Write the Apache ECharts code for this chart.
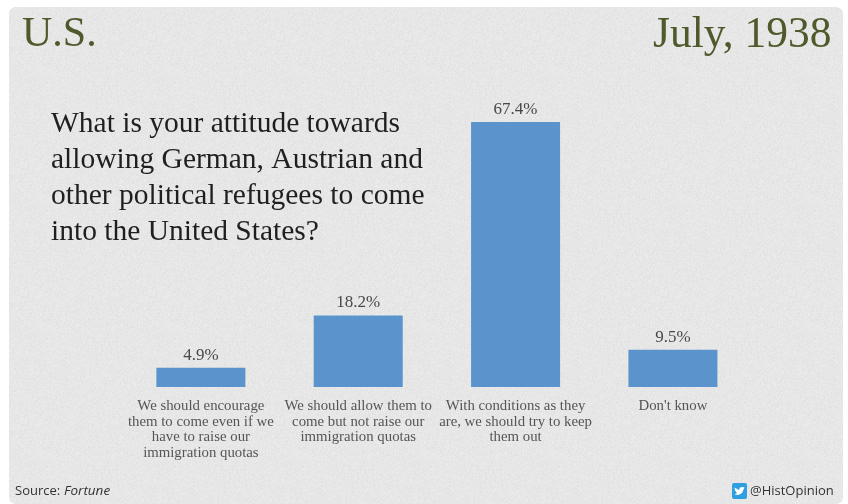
<!DOCTYPE html>
<html>
<head>
<meta charset="utf-8">
<style>html,body{margin:0;padding:0;background:#fff}#chart{width:848px;height:504px}</style>
<script src="https://cdn.jsdelivr.net/npm/echarts@6/dist/echarts.min.js"></script>
</head>
<body>
<div id="chart"></div>
<script>
// Survey answers and their shares in percent
const categories = [
  "We should encourage\nthem to come even if we\nhave to raise our\nimmigration quotas",
  "We should allow them to\ncome but not raise our\nimmigration quotas",
  "With conditions as they\nare, we should try to keep\nthem out",
  "Don't know"
];
const shares = [4.9, 18.2, 67.4, 9.5];
const question = "What is your attitude towards\nallowing German, Austrian and\nother political refugees to come\ninto the United States?";
const SERIF = '"Liberation Serif", serif';
const SANS = '"Open Sans", "Noto Sans", sans-serif';

// Fine paper grain for the slide panel, from a small fixed-seed generator
function paperTexture() {
  const c = document.createElement('canvas');
  c.width = c.height = 128;
  const g = c.getContext('2d');
  const img = g.createImageData(128, 128);
  let s = 12345;
  for (let i = 0; i < img.data.length; i += 4) {
    s = (s * 1103515245 + 12345) & 0x7fffffff;
    const v = 226 + (s >> 16) % 10;
    img.data[i] = img.data[i + 1] = img.data[i + 2] = v;
    img.data[i + 3] = 255;
  }
  g.putImageData(img, 0, 0);
  return c;
}

const chart = echarts.init(document.getElementById('chart'), null, { renderer: 'canvas' });
chart.setOption({
  backgroundColor: '#ffffff',
  animation: false,
  grid: { left: 122.2, right: 96.4, top: 72.4, bottom: 117, containLabel: false },
  xAxis: {
    type: 'category',
    data: categories,
    axisLine: { show: false },
    axisTick: { show: false },
    axisLabel: {
      interval: 0, margin: 11, color: '#555555',
      fontFamily: SERIF, fontSize: 14.8, lineHeight: 15.8, align: 'center'
    }
  },
  yAxis: { type: 'value', min: 0, max: 80, show: false },
  series: [{
    type: 'bar',
    data: shares,
    barWidth: 89,
    itemStyle: { color: '#5b93cc' },
    label: {
      show: true, position: 'top', distance: 4,
      formatter: p => p.value.toFixed(1) + '%',
      color: '#484848', fontFamily: SERIF, fontSize: 17
    },
    z: 5
  }],
  graphic: [
    { type: 'rect', z: -10, shape: { x: 9, y: 7, width: 834, height: 497, r: 7 },
      style: { fill: { image: paperTexture(), repeat: 'repeat' } } },
    { type: 'text', z: 10, x: 22, y: 14, style: { text: 'U.S.', font: '42px ' + SERIF, fill: '#4f5a2c' } },
    { type: 'text', z: 10, x: 653, y: 14, style: { text: 'July, 1938', font: '43.5px ' + SERIF, fill: '#4f5a2c' } },
    { type: 'text', z: 10, x: 51, y: 106, style: { text: question, font: '29.5px ' + SERIF, fill: '#1f1f1f', lineHeight: 36 } },
    { type: 'text', z: 10, x: 15, y: 491, style: { text: 'Source:', font: '13px ' + SANS, fill: '#333333', verticalAlign: 'middle' } },
    { type: 'text', z: 10, x: 64, y: 491, style: { text: 'Fortune', font: 'italic 13.5px ' + SANS, fill: '#333333', verticalAlign: 'middle' } },
    { type: 'rect', z: 10, shape: { x: 732, y: 483, width: 15, height: 16, r: 2 }, style: { fill: '#2f9fe0' } },
    { type: 'polygon', z: 11, shape: { points: [[734.5,487.5],[739,490],[740,487.5],[742.5,487],[744.500,487.5],[743.500,489.500],[742,493],[738.500,495],[734.500,494.500],[737,493],[735,490.500]] },
      style: { fill: '#ffffff' } },
    { type: 'text', z: 10, x: 750, y: 491, style: { text: '@HistOpinion', font: '13px ' + SANS, fill: '#333333', verticalAlign: 'middle' } }
  ]
});
</script>
</body>
</html>
